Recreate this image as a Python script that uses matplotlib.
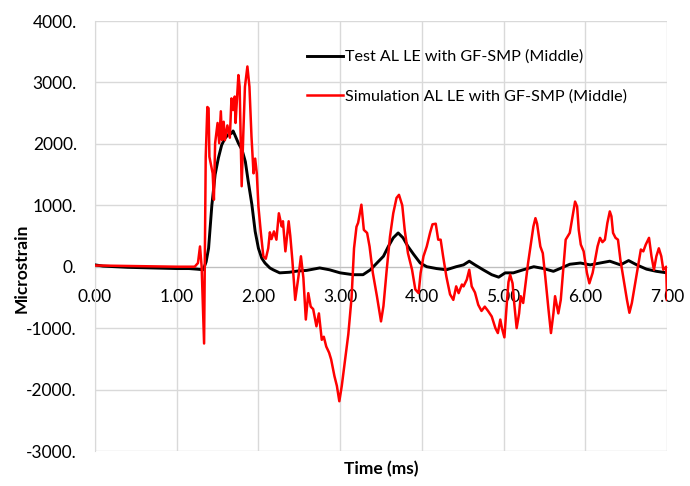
import matplotlib
matplotlib.use("Agg")
import matplotlib.pyplot as plt
from matplotlib.ticker import FixedLocator

# ---- data ----
test_t = [0.00, 0.10, 0.25, 0.40, 0.55, 0.70, 0.85, 1.00, 1.15, 1.25, 1.325, 1.36, 1.39, 1.43, 1.47,
          1.51, 1.55, 1.59, 1.63, 1.67, 1.69, 1.71, 1.755, 1.80, 1.84, 1.875, 1.92, 1.96,
          2.00, 2.04, 2.08, 2.14, 2.18, 2.26, 2.38, 2.48, 2.59, 2.75, 2.87, 3.00, 3.16,
          3.28, 3.37, 3.45, 3.53, 3.59, 3.65, 3.71, 3.77, 3.83, 3.90, 3.98, 4.06, 4.18,
          4.30, 4.42, 4.51, 4.58, 4.65, 4.75, 4.855, 4.94, 5.02, 5.12, 5.24, 5.37, 5.49,
          5.61, 5.69, 5.81, 5.94, 6.06, 6.18, 6.30, 6.43, 6.53, 6.63, 6.75, 6.87, 7.00]
test_v = [30, 10, 0, -10, -15, -20, -25, -30, -30, -40, -50, 80, 300, 1000, 1500,
          1770, 1980, 2090, 2150, 2170, 2210, 2150, 2010, 1900, 1710, 1390, 1010, 575,
          300, 140, 60, -20, -50, -100, -90, -70, -60, -20, -50, -100, -130,
          -130, -50, 60, 170, 330, 470, 550, 470, 330, 200, 60, 0, -30,
          -50, 0, 30, 90, 30, -50, -130, -170, -100, -100, -50, 0, -30,
          -75, -30, 40, 60, 30, 60, 90, 30, 100, 30, -40, -75, -100]

sim_t = [0.00, 0.50, 1.00, 1.22, 1.26, 1.285, 1.305, 1.335, 1.355, 1.375, 1.39, 1.40, 1.44, 1.455,
         1.47, 1.50, 1.52, 1.54, 1.555, 1.575, 1.59, 1.62, 1.65, 1.67, 1.69, 1.71, 1.72, 1.755,
         1.77, 1.795, 1.815, 1.835, 1.865, 1.89, 1.915, 1.94, 1.96, 1.98, 2.00, 2.03, 2.06,
         2.09, 2.12, 2.14, 2.16, 2.19, 2.22, 2.25, 2.285, 2.30, 2.33, 2.37, 2.39, 2.415, 2.45,
         2.49, 2.52, 2.55, 2.58, 2.61, 2.64, 2.67, 2.71, 2.74, 2.775, 2.80, 2.83, 2.865, 2.89,
         2.93, 2.96, 2.99, 3.02, 3.05, 3.10, 3.14, 3.17, 3.20, 3.22, 3.26, 3.29, 3.33, 3.36,
         3.40, 3.45, 3.50, 3.53, 3.57, 3.61, 3.65, 3.69, 3.72, 3.76, 3.79, 3.83, 3.88, 3.92,
         3.96, 3.985, 4.02, 4.06, 4.10, 4.13, 4.17, 4.20, 4.23, 4.26, 4.30, 4.345, 4.385, 4.42,
         4.45, 4.49, 4.51, 4.55, 4.58, 4.61, 4.65, 4.69, 4.73, 4.77, 4.81, 4.855, 4.90, 4.93,
         4.96, 4.98, 5.01, 5.04, 5.06, 5.08, 5.11, 5.13, 5.16, 5.19, 5.21, 5.24, 5.275, 5.30,
         5.33, 5.365, 5.39, 5.41, 5.45, 5.48, 5.51, 5.55, 5.58, 5.61, 5.63, 5.67, 5.70, 5.73,
         5.76, 5.81, 5.83, 5.875, 5.90, 5.92, 5.945, 5.98, 6.02, 6.05, 6.09, 6.12, 6.15, 6.18,
         6.21, 6.24, 6.27, 6.30, 6.32, 6.34, 6.37, 6.40, 6.43, 6.47, 6.51, 6.54, 6.57, 6.61,
         6.65, 6.68, 6.71, 6.74, 6.78, 6.81, 6.84, 6.87, 6.90, 6.93, 6.955, 6.99, 7.00]
sim_v = [20, 10, 0, 0, 60, 330, 0, -1250, 1790, 2600, 2580, 1790, 1520, 1090,
         2010, 2340, 2010, 2530, 2060, 2360, 2060, 2300, 2100, 2740, 2550, 2770, 2340, 3120,
         2930, 1310, 2170, 2930, 3260, 2930, 2120, 1520, 1760, 1520, 980, 550, 170,
         130, 300, 560, 450, 575, 440, 870, 655, 740, 250, 740, 500, 110, -540,
         -160, 170, -180, -860, -430, -650, -690, -970, -760, -1190, -1140, -1300, -1400, -1510,
         -1780, -1940, -2190, -1940, -1620, -1100, -500, 300, 650, 715, 1010, 600, 550, 330,
         -100, -480, -890, -640, -50, 490, 870, 1120, 1170, 1000, 600, 220, -50, -370,
         -430, -100, 170, 330, 550, 690, 700, 440, 440, 170, -160, -450, -540, -320,
         -430, -290, -320, -210, -50, -320, -420, -620, -720, -650, -720, -810, -1000, -1080,
         -860, -1000, -1150, -590, -250, -130, -270, -590, -1000, -760, -480, -590, -210, 60,
         330, 655, 790, 700, 330, 220, -160, -700, -1080, -760, -480, -760, -540, -50,
         440, 550, 710, 1060, 980, 600, 360, 250, -100, -270, -100, 110, 330, 470,
         400, 440, 710, 900, 820, 550, 470, 440, 110, -210, -540, -750, -590, -270,
         60, 280, 250, 360, 470, 170, -50, 170, 300, 170, -50, 0, -540]

x_ticks = [0, 1, 2, 3, 4, 5, 6, 7]
x_tick_labels = ["0.00", "1.00", "2.00", "3.00", "4.00", "5.00", "6.00", "7.00"]
y_ticks = [-3000, -2000, -1000, 0, 1000, 2000, 3000, 4000]
y_tick_labels = ["-3000.", "-2000.", "-1000.", "0.", "1000.", "2000.", "3000.", "4000."]
series_names = ["Test AL LE with GF-SMP (Middle)", "Simulation AL LE with GF-SMP (Middle)"]

plt.rcParams['font.family'] = ['Lato', 'DejaVu Sans']

fig = plt.figure(figsize=(6.9, 4.86), dpi=100)
ax = fig.add_axes([95/690, 1 - 451/486, 572/690, 430/486])

grid_c = "#d9d9d9"
ax.plot(test_t, test_v, color="black", lw=2.1, label=series_names[0], zorder=3)
ax.plot(sim_t, sim_v, color="#ff0000", lw=1.8, label=series_names[1], zorder=4)

ax.set_xlim(0, 7)
ax.set_ylim(-3000, 4000)
ax.xaxis.set_major_locator(FixedLocator(x_ticks))
ax.yaxis.set_major_locator(FixedLocator(y_ticks))
ax.set_xticklabels(x_tick_labels)
ax.set_yticklabels(y_tick_labels)
ax.grid(True, color=grid_c, lw=1.0, zorder=0)
ax.set_axisbelow(True)

for s in ["top", "right"]:
    ax.spines[s].set_visible(False)
ax.spines["left"].set_color(grid_c)
ax.spines["bottom"].set_position(("data", 0))
ax.spines["bottom"].set_color("#bfbfbf")
ax.tick_params(axis="both", length=0, labelsize=12.5, colors="#000000")
ax.tick_params(axis="x", pad=16)
ax.tick_params(axis="y", pad=13)

fig.text(22/690, 1 - 268/486, "Microstrain", rotation=90, fontsize=12.5, fontweight="bold",
         ha="center", va="center")
fig.text(381/690, 1 - 469/486, "Time (ms)", fontsize=12.5, fontweight="bold",
         ha="center", va="center")

leg = ax.legend(loc="upper left", bbox_to_anchor=(0.36, 0.948), frameon=False, fontsize=11.6,
                handlelength=2.2, handletextpad=0.15, labelspacing=1.55, borderaxespad=0)

fig.savefig("out.png", dpi=100, facecolor="white")
